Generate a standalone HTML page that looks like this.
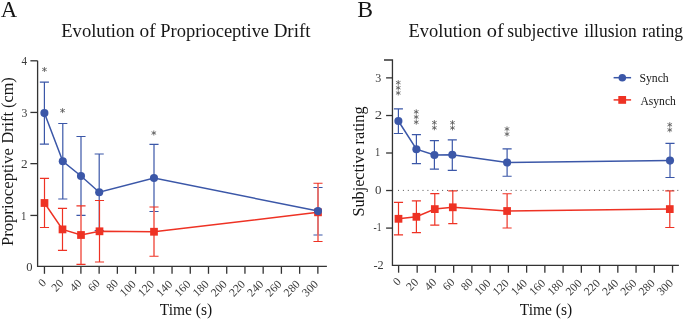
<!DOCTYPE html>
<html><head><meta charset="utf-8"><style>
html,body{margin:0;padding:0;background:#fff;}
svg{display:block;will-change:transform;}
text{font-family:"Liberation Serif",serif;}
</style></head><body>
<svg width="685" height="320" viewBox="0 0 685 320"><g fill="#161616">
<text x="0.86" y="16.90" font-size="24" textLength="16.43" lengthAdjust="spacingAndGlyphs">A</text>
<text x="357.30" y="16.90" font-size="23.5" textLength="15.80" lengthAdjust="spacingAndGlyphs">B</text>
<text x="61.21" y="37.20" font-size="19" textLength="73.44" lengthAdjust="spacingAndGlyphs">Evolution</text>
<text x="139.54" y="37.20" font-size="19" textLength="16.09" lengthAdjust="spacingAndGlyphs">of</text>
<text x="160.21" y="37.20" font-size="19" textLength="108.88" lengthAdjust="spacingAndGlyphs">Proprioceptive</text>
<text x="273.65" y="37.20" font-size="19" textLength="36.94" lengthAdjust="spacingAndGlyphs">Drift</text>
<text x="408.51" y="37.10" font-size="19" textLength="72.88" lengthAdjust="spacingAndGlyphs">Evolution</text>
<text x="486.69" y="37.10" font-size="19" textLength="17.02" lengthAdjust="spacingAndGlyphs">of</text>
<text x="507.31" y="37.10" font-size="19" textLength="70.78" lengthAdjust="spacingAndGlyphs">subjective</text>
<text x="584.37" y="37.10" font-size="19" textLength="52.47" lengthAdjust="spacingAndGlyphs">illusion</text>
<text x="642.17" y="37.10" font-size="19" textLength="40.93" lengthAdjust="spacingAndGlyphs">rating</text>
<text transform="translate(13.30,0) rotate(-90)" x="-246.11" y="0" font-size="16.2" textLength="98.09" lengthAdjust="spacingAndGlyphs">Proprioceptive</text>
<text transform="translate(13.30,0) rotate(-90)" x="-143.60" y="0" font-size="16.2" textLength="66.38" lengthAdjust="spacingAndGlyphs">Drift (cm)</text>
<text transform="translate(364.40,0) rotate(-90)" x="-216.60" y="0" font-size="16.2" textLength="68.50" lengthAdjust="spacingAndGlyphs">Subjective</text>
<text transform="translate(364.40,0) rotate(-90)" x="-144.45" y="0" font-size="16.2" textLength="37.97" lengthAdjust="spacingAndGlyphs">rating</text>
<text x="159.76" y="314.60" font-size="16.4" textLength="52.36" lengthAdjust="spacingAndGlyphs">Time (s)</text>
<text x="519.76" y="314.60" font-size="16.4" textLength="52.36" lengthAdjust="spacingAndGlyphs">Time (s)</text>
<text x="639.41" y="82.00" font-size="12.8" textLength="29.34" lengthAdjust="spacingAndGlyphs">Synch</text>
<text x="640.40" y="104.50" font-size="12.8" textLength="35.45" lengthAdjust="spacingAndGlyphs">Asynch</text>
<path d="M37.6 60.8 V266.35 H326.9" fill="none" stroke="#333333" stroke-width="1.3"/>
<line x1="30.4" y1="60.80" x2="37.6" y2="60.80" stroke="#333333" stroke-width="1.3"/>
<line x1="30.4" y1="112.44" x2="37.6" y2="112.44" stroke="#333333" stroke-width="1.3"/>
<line x1="30.4" y1="163.65" x2="37.6" y2="163.65" stroke="#333333" stroke-width="1.3"/>
<line x1="30.4" y1="215.44" x2="37.6" y2="215.44" stroke="#333333" stroke-width="1.3"/>
<text x="21.52" y="65.45" font-size="11.8" textLength="5.53" lengthAdjust="spacingAndGlyphs" fill="#3a3a3a">4</text>
<text x="21.40" y="116.70" font-size="11.8" textLength="5.91" lengthAdjust="spacingAndGlyphs" fill="#3a3a3a">3</text>
<text x="21.00" y="168.10" font-size="11.8" textLength="6.64" lengthAdjust="spacingAndGlyphs" fill="#3a3a3a">2</text>
<text x="21.08" y="219.85" font-size="11.8" textLength="5.42" lengthAdjust="spacingAndGlyphs" fill="#3a3a3a">1</text>
<text x="26.33" y="271.10" font-size="11.8" textLength="6.30" lengthAdjust="spacingAndGlyphs" fill="#3a3a3a">0</text>
<line x1="44.45" y1="266.35" x2="44.45" y2="273.8" stroke="#333333" stroke-width="1.3"/>
<text transform="translate(46.75,283.5) rotate(-45)" font-size="11.6" text-anchor="end" fill="#3a3a3a">0</text>
<line x1="62.68" y1="266.35" x2="62.68" y2="273.8" stroke="#333333" stroke-width="1.3"/>
<text transform="translate(64.18,284.0) rotate(-45)" font-size="11.6" text-anchor="end" fill="#3a3a3a">20</text>
<line x1="80.90" y1="266.35" x2="80.90" y2="273.8" stroke="#333333" stroke-width="1.3"/>
<text transform="translate(82.40,284.0) rotate(-45)" font-size="11.6" text-anchor="end" fill="#3a3a3a">40</text>
<line x1="99.13" y1="266.35" x2="99.13" y2="273.8" stroke="#333333" stroke-width="1.3"/>
<text transform="translate(100.63,284.0) rotate(-45)" font-size="11.6" text-anchor="end" fill="#3a3a3a">60</text>
<line x1="117.36" y1="266.35" x2="117.36" y2="273.8" stroke="#333333" stroke-width="1.3"/>
<text transform="translate(118.86,284.0) rotate(-45)" font-size="11.6" text-anchor="end" fill="#3a3a3a">80</text>
<line x1="135.59" y1="266.35" x2="135.59" y2="273.8" stroke="#333333" stroke-width="1.3"/>
<text transform="translate(136.59,284.9) rotate(-45)" font-size="11.6" text-anchor="end" fill="#3a3a3a">100</text>
<line x1="153.81" y1="266.35" x2="153.81" y2="273.8" stroke="#333333" stroke-width="1.3"/>
<text transform="translate(154.81,284.9) rotate(-45)" font-size="11.6" text-anchor="end" fill="#3a3a3a">120</text>
<line x1="172.04" y1="266.35" x2="172.04" y2="273.8" stroke="#333333" stroke-width="1.3"/>
<text transform="translate(173.04,284.9) rotate(-45)" font-size="11.6" text-anchor="end" fill="#3a3a3a">140</text>
<line x1="190.27" y1="266.35" x2="190.27" y2="273.8" stroke="#333333" stroke-width="1.3"/>
<text transform="translate(191.27,284.9) rotate(-45)" font-size="11.6" text-anchor="end" fill="#3a3a3a">160</text>
<line x1="208.49" y1="266.35" x2="208.49" y2="273.8" stroke="#333333" stroke-width="1.3"/>
<text transform="translate(209.49,284.9) rotate(-45)" font-size="11.6" text-anchor="end" fill="#3a3a3a">180</text>
<line x1="226.72" y1="266.35" x2="226.72" y2="273.8" stroke="#333333" stroke-width="1.3"/>
<text transform="translate(227.72,284.9) rotate(-45)" font-size="11.6" text-anchor="end" fill="#3a3a3a">200</text>
<line x1="244.95" y1="266.35" x2="244.95" y2="273.8" stroke="#333333" stroke-width="1.3"/>
<text transform="translate(245.95,284.9) rotate(-45)" font-size="11.6" text-anchor="end" fill="#3a3a3a">220</text>
<line x1="263.17" y1="266.35" x2="263.17" y2="273.8" stroke="#333333" stroke-width="1.3"/>
<text transform="translate(264.17,284.9) rotate(-45)" font-size="11.6" text-anchor="end" fill="#3a3a3a">240</text>
<line x1="281.40" y1="266.35" x2="281.40" y2="273.8" stroke="#333333" stroke-width="1.3"/>
<text transform="translate(282.40,284.9) rotate(-45)" font-size="11.6" text-anchor="end" fill="#3a3a3a">260</text>
<line x1="299.63" y1="266.35" x2="299.63" y2="273.8" stroke="#333333" stroke-width="1.3"/>
<text transform="translate(300.63,284.9) rotate(-45)" font-size="11.6" text-anchor="end" fill="#3a3a3a">280</text>
<line x1="317.86" y1="266.35" x2="317.86" y2="273.8" stroke="#333333" stroke-width="1.3"/>
<text transform="translate(318.86,284.9) rotate(-45)" font-size="11.6" text-anchor="end" fill="#3a3a3a">300</text>
<path d="M384 60 H392.45 V265.35 H678.9" fill="none" stroke="#333333" stroke-width="1.3"/>
<line x1="386.1" y1="77.87" x2="392.45" y2="77.87" stroke="#333333" stroke-width="1.3"/>
<line x1="386.1" y1="115.52" x2="392.45" y2="115.52" stroke="#333333" stroke-width="1.3"/>
<line x1="386.1" y1="153.00" x2="392.45" y2="153.00" stroke="#333333" stroke-width="1.3"/>
<line x1="386.1" y1="190.52" x2="392.45" y2="190.52" stroke="#333333" stroke-width="1.3"/>
<line x1="386.1" y1="228.09" x2="392.45" y2="228.09" stroke="#333333" stroke-width="1.3"/>
<text x="375.39" y="81.95" font-size="11.8" textLength="6.02" lengthAdjust="spacingAndGlyphs" fill="#3a3a3a">3</text>
<text x="374.67" y="118.60" font-size="11.8" textLength="7.40" lengthAdjust="spacingAndGlyphs" fill="#3a3a3a">2</text>
<text x="375.01" y="156.25" font-size="11.8" textLength="5.28" lengthAdjust="spacingAndGlyphs" fill="#3a3a3a">1</text>
<text x="375.08" y="194.25" font-size="11.8" textLength="6.47" lengthAdjust="spacingAndGlyphs" fill="#3a3a3a">0</text>
<text x="373.60" y="231.20" font-size="11.8" textLength="7.97" lengthAdjust="spacingAndGlyphs" fill="#3a3a3a">-1</text>
<text x="373.49" y="268.70" font-size="11.8" textLength="10.21" lengthAdjust="spacingAndGlyphs" fill="#3a3a3a">-2</text>
<line x1="398.60" y1="265.35" x2="398.60" y2="272.7" stroke="#333333" stroke-width="1.3"/>
<text transform="translate(401.60,282.2) rotate(-45)" font-size="11.6" text-anchor="end" fill="#3a3a3a">0</text>
<line x1="417.18" y1="265.35" x2="417.18" y2="272.7" stroke="#333333" stroke-width="1.3"/>
<text transform="translate(418.98,283.0) rotate(-45)" font-size="11.6" text-anchor="end" fill="#3a3a3a">20</text>
<line x1="435.42" y1="265.35" x2="435.42" y2="272.7" stroke="#333333" stroke-width="1.3"/>
<text transform="translate(437.22,283.0) rotate(-45)" font-size="11.6" text-anchor="end" fill="#3a3a3a">40</text>
<line x1="453.66" y1="265.35" x2="453.66" y2="272.7" stroke="#333333" stroke-width="1.3"/>
<text transform="translate(455.46,283.0) rotate(-45)" font-size="11.6" text-anchor="end" fill="#3a3a3a">60</text>
<line x1="471.90" y1="265.35" x2="471.90" y2="272.7" stroke="#333333" stroke-width="1.3"/>
<text transform="translate(473.70,283.0) rotate(-45)" font-size="11.6" text-anchor="end" fill="#3a3a3a">80</text>
<line x1="490.14" y1="265.35" x2="490.14" y2="272.7" stroke="#333333" stroke-width="1.3"/>
<text transform="translate(491.34,283.8) rotate(-45)" font-size="11.6" text-anchor="end" fill="#3a3a3a">100</text>
<line x1="508.38" y1="265.35" x2="508.38" y2="272.7" stroke="#333333" stroke-width="1.3"/>
<text transform="translate(509.58,283.8) rotate(-45)" font-size="11.6" text-anchor="end" fill="#3a3a3a">120</text>
<line x1="526.62" y1="265.35" x2="526.62" y2="272.7" stroke="#333333" stroke-width="1.3"/>
<text transform="translate(527.82,283.8) rotate(-45)" font-size="11.6" text-anchor="end" fill="#3a3a3a">140</text>
<line x1="544.86" y1="265.35" x2="544.86" y2="272.7" stroke="#333333" stroke-width="1.3"/>
<text transform="translate(546.06,283.8) rotate(-45)" font-size="11.6" text-anchor="end" fill="#3a3a3a">160</text>
<line x1="563.10" y1="265.35" x2="563.10" y2="272.7" stroke="#333333" stroke-width="1.3"/>
<text transform="translate(564.30,283.8) rotate(-45)" font-size="11.6" text-anchor="end" fill="#3a3a3a">180</text>
<line x1="581.34" y1="265.35" x2="581.34" y2="272.7" stroke="#333333" stroke-width="1.3"/>
<text transform="translate(582.54,283.8) rotate(-45)" font-size="11.6" text-anchor="end" fill="#3a3a3a">200</text>
<line x1="599.58" y1="265.35" x2="599.58" y2="272.7" stroke="#333333" stroke-width="1.3"/>
<text transform="translate(600.78,283.8) rotate(-45)" font-size="11.6" text-anchor="end" fill="#3a3a3a">220</text>
<line x1="617.82" y1="265.35" x2="617.82" y2="272.7" stroke="#333333" stroke-width="1.3"/>
<text transform="translate(619.02,283.8) rotate(-45)" font-size="11.6" text-anchor="end" fill="#3a3a3a">240</text>
<line x1="636.06" y1="265.35" x2="636.06" y2="272.7" stroke="#333333" stroke-width="1.3"/>
<text transform="translate(637.26,283.8) rotate(-45)" font-size="11.6" text-anchor="end" fill="#3a3a3a">260</text>
<line x1="654.30" y1="265.35" x2="654.30" y2="272.7" stroke="#333333" stroke-width="1.3"/>
<text transform="translate(655.50,283.8) rotate(-45)" font-size="11.6" text-anchor="end" fill="#3a3a3a">280</text>
<line x1="672.54" y1="265.35" x2="672.54" y2="272.7" stroke="#333333" stroke-width="1.3"/>
<text transform="translate(673.74,283.8) rotate(-45)" font-size="11.6" text-anchor="end" fill="#3a3a3a">300</text>
<path d="M44.4 82.2 V144.1 M39.85 82.2 H48.949999999999996 M39.85 144.1 H48.949999999999996" stroke="#3b57a8" stroke-width="1.2" fill="none"/>
<path d="M62.8 123.5 V199 M58.25 123.5 H67.35 M58.25 199 H67.35" stroke="#3b57a8" stroke-width="1.2" fill="none"/>
<path d="M81 136.5 V215.3 M76.45 136.5 H85.55 M76.45 215.3 H85.55" stroke="#3b57a8" stroke-width="1.2" fill="none"/>
<path d="M99.2 154 V230.5 M94.65 154 H103.75 M94.65 230.5 H103.75" stroke="#3b57a8" stroke-width="1.2" fill="none"/>
<path d="M154 144.4 V211.5 M149.45 144.4 H158.55 M149.45 211.5 H158.55" stroke="#3b57a8" stroke-width="1.2" fill="none"/>
<path d="M318 187.5 V235 M313.45 187.5 H322.55 M313.45 235 H322.55" stroke="#3b57a8" stroke-width="1.2" fill="none"/>
<path d="M44.5 178.4 V227.5" stroke="#fff" stroke-width="1.2" fill="none"/>
<path d="M44.5 178.4 V227.5 M39.95 178.4 H49.05 M39.95 227.5 H49.05" stroke="#ee3224" stroke-width="1.2" fill="none"/>
<path d="M62.5 208.4 V250.4" stroke="#fff" stroke-width="1.2" fill="none"/>
<path d="M62.5 208.4 V250.4 M57.95 208.4 H67.05 M57.95 250.4 H67.05" stroke="#ee3224" stroke-width="1.2" fill="none"/>
<path d="M81 205.9 V264.4" stroke="#fff" stroke-width="1.2" fill="none"/>
<path d="M81 205.9 V264.4 M76.45 205.9 H85.55 M76.45 264.4 H85.55" stroke="#ee3224" stroke-width="1.2" fill="none"/>
<path d="M99.5 200.5 V262" stroke="#fff" stroke-width="1.2" fill="none"/>
<path d="M99.5 200.5 V262 M94.95 200.5 H104.05 M94.95 262 H104.05" stroke="#ee3224" stroke-width="1.2" fill="none"/>
<path d="M154 207 V256.25" stroke="#fff" stroke-width="1.2" fill="none"/>
<path d="M154 207 V256.25 M149.45 207 H158.55 M149.45 256.25 H158.55" stroke="#ee3224" stroke-width="1.2" fill="none"/>
<path d="M318 183.25 V241.5" stroke="#fff" stroke-width="1.2" fill="none"/>
<path d="M318 183.25 V241.5 M313.45 183.25 H322.55 M313.45 241.5 H322.55" stroke="#ee3224" stroke-width="1.2" fill="none"/>
<polyline points="44.4,113.1 62.8,161.3 81,176 99.2,192.2 154,178 318,211.1" fill="none" stroke="#3b57a8" stroke-width="1.5"/>
<polyline points="44.5,203 62.5,229.4 81,235 99.5,231.3 154,231.75 318,212.3" fill="none" stroke="#ee3224" stroke-width="1.5"/>
<rect x="40.65" y="199.1" width="7.7" height="7.8" fill="#ee3224"/>
<rect x="58.65" y="225.5" width="7.7" height="7.8" fill="#ee3224"/>
<rect x="77.15" y="231.1" width="7.7" height="7.8" fill="#ee3224"/>
<rect x="95.65" y="227.4" width="7.7" height="7.8" fill="#ee3224"/>
<rect x="150.15" y="227.85" width="7.7" height="7.8" fill="#ee3224"/>
<rect x="314.15" y="208.4" width="7.7" height="7.8" fill="#ee3224"/>
<circle cx="44.4" cy="113.1" r="4.05" fill="#3b57a8"/>
<circle cx="62.8" cy="161.3" r="4.05" fill="#3b57a8"/>
<circle cx="81" cy="176" r="4.05" fill="#3b57a8"/>
<circle cx="99.2" cy="192.2" r="4.05" fill="#3b57a8"/>
<circle cx="154" cy="178" r="4.05" fill="#3b57a8"/>
<circle cx="318" cy="211.1" r="4.05" fill="#3b57a8"/>
<path d="M398.4 108.8 V133.5 M393.84999999999997 108.8 H402.95 M393.84999999999997 133.5 H402.95" stroke="#3b57a8" stroke-width="1.2" fill="none"/>
<path d="M416.4 134.7 V163.6 M411.84999999999997 134.7 H420.95 M411.84999999999997 163.6 H420.95" stroke="#3b57a8" stroke-width="1.2" fill="none"/>
<path d="M434.4 140.6 V169.2 M429.84999999999997 140.6 H438.95 M429.84999999999997 169.2 H438.95" stroke="#3b57a8" stroke-width="1.2" fill="none"/>
<path d="M452.3 139.8 V170.3 M447.75 139.8 H456.85 M447.75 170.3 H456.85" stroke="#3b57a8" stroke-width="1.2" fill="none"/>
<path d="M507.1 148.8 V176.25 M502.55 148.8 H511.65000000000003 M502.55 176.25 H511.65000000000003" stroke="#3b57a8" stroke-width="1.2" fill="none"/>
<path d="M670 143.4 V177.5 M665.45 143.4 H674.55 M665.45 177.5 H674.55" stroke="#3b57a8" stroke-width="1.2" fill="none"/>
<path d="M398.5 202.3 V234.9" stroke="#fff" stroke-width="1.2" fill="none"/>
<path d="M398.5 202.3 V234.9 M393.95 202.3 H403.05 M393.95 234.9 H403.05" stroke="#ee3224" stroke-width="1.2" fill="none"/>
<path d="M416.4 200.9 V232.7" stroke="#fff" stroke-width="1.2" fill="none"/>
<path d="M416.4 200.9 V232.7 M411.84999999999997 200.9 H420.95 M411.84999999999997 232.7 H420.95" stroke="#ee3224" stroke-width="1.2" fill="none"/>
<path d="M434.8 193.6 V225.2" stroke="#fff" stroke-width="1.2" fill="none"/>
<path d="M434.8 193.6 V225.2 M430.25 193.6 H439.35 M430.25 225.2 H439.35" stroke="#ee3224" stroke-width="1.2" fill="none"/>
<path d="M452.8 190.9 V223.7" stroke="#fff" stroke-width="1.2" fill="none"/>
<path d="M452.8 190.9 V223.7 M448.25 190.9 H457.35 M448.25 223.7 H457.35" stroke="#ee3224" stroke-width="1.2" fill="none"/>
<path d="M507.1 193.75 V228" stroke="#fff" stroke-width="1.2" fill="none"/>
<path d="M507.1 193.75 V228 M502.55 193.75 H511.65000000000003 M502.55 228 H511.65000000000003" stroke="#ee3224" stroke-width="1.2" fill="none"/>
<path d="M669.8 190.9 V227.5" stroke="#fff" stroke-width="1.2" fill="none"/>
<path d="M669.8 190.9 V227.5 M665.25 190.9 H674.3499999999999 M665.25 227.5 H674.3499999999999" stroke="#ee3224" stroke-width="1.2" fill="none"/>
<polyline points="398.4,121 416.4,149.2 434.4,155 452.3,154.7 507.1,162.5 670,160.6" fill="none" stroke="#3b57a8" stroke-width="1.5"/>
<polyline points="398.5,218.8 416.4,216.8 434.8,209.1 452.8,207.3 507.1,211 669.8,209.1" fill="none" stroke="#ee3224" stroke-width="1.5"/>
<rect x="394.65" y="214.9" width="7.7" height="7.8" fill="#ee3224"/>
<rect x="412.54999999999995" y="212.9" width="7.7" height="7.8" fill="#ee3224"/>
<rect x="430.95" y="205.2" width="7.7" height="7.8" fill="#ee3224"/>
<rect x="448.95" y="203.4" width="7.7" height="7.8" fill="#ee3224"/>
<rect x="503.25" y="207.1" width="7.7" height="7.8" fill="#ee3224"/>
<rect x="665.9499999999999" y="205.2" width="7.7" height="7.8" fill="#ee3224"/>
<circle cx="398.4" cy="121" r="4.05" fill="#3b57a8"/>
<circle cx="416.4" cy="149.2" r="4.05" fill="#3b57a8"/>
<circle cx="434.4" cy="155" r="4.05" fill="#3b57a8"/>
<circle cx="452.3" cy="154.7" r="4.05" fill="#3b57a8"/>
<circle cx="507.1" cy="162.5" r="4.05" fill="#3b57a8"/>
<circle cx="670" cy="160.6" r="4.05" fill="#3b57a8"/>
<line x1="398" y1="190.4" x2="679" y2="190.4" stroke="#555" stroke-width="1" stroke-dasharray="1 3.9"/>
<path d="M44.45 67.00V72.00M42.15 68.20L46.75 70.80M42.15 70.80L46.75 68.20" stroke="#555" stroke-width="0.8" fill="none"/>
<path d="M62.56 108.10V113.10M60.26 109.30L64.86 111.90M60.26 111.90L64.86 109.30" stroke="#555" stroke-width="0.8" fill="none"/>
<path d="M153.80 130.50V135.50M151.50 131.70L156.10 134.30M151.50 134.30L156.10 131.70" stroke="#555" stroke-width="0.8" fill="none"/>
<path d="M398.25 80.10V85.10M395.95 81.30L400.55 83.90M395.95 83.90L400.55 81.30" stroke="#555" stroke-width="0.8" fill="none"/>
<path d="M398.25 85.30V90.30M395.95 86.50L400.55 89.10M395.95 89.10L400.55 86.50" stroke="#555" stroke-width="0.8" fill="none"/>
<path d="M398.25 90.50V95.50M395.95 91.70L400.55 94.30M395.95 94.30L400.55 91.70" stroke="#555" stroke-width="0.8" fill="none"/>
<path d="M416.25 109.30V114.30M413.95 110.50L418.55 113.10M413.95 113.10L418.55 110.50" stroke="#555" stroke-width="0.8" fill="none"/>
<path d="M416.25 114.50V119.50M413.95 115.70L418.55 118.30M413.95 118.30L418.55 115.70" stroke="#555" stroke-width="0.8" fill="none"/>
<path d="M416.25 119.70V124.70M413.95 120.90L418.55 123.50M413.95 123.50L418.55 120.90" stroke="#555" stroke-width="0.8" fill="none"/>
<path d="M434.40 120.10V125.10M432.10 121.30L436.70 123.90M432.10 123.90L436.70 121.30" stroke="#555" stroke-width="0.8" fill="none"/>
<path d="M434.40 125.30V130.30M432.10 126.50L436.70 129.10M432.10 129.10L436.70 126.50" stroke="#555" stroke-width="0.8" fill="none"/>
<path d="M452.50 120.20V125.20M450.20 121.40L454.80 124.00M450.20 124.00L454.80 121.40" stroke="#555" stroke-width="0.8" fill="none"/>
<path d="M452.50 125.40V130.40M450.20 126.60L454.80 129.20M450.20 129.20L454.80 126.60" stroke="#555" stroke-width="0.8" fill="none"/>
<path d="M507.00 126.40V131.40M504.70 127.60L509.30 130.20M504.70 130.20L509.30 127.60" stroke="#555" stroke-width="0.8" fill="none"/>
<path d="M507.00 131.60V136.60M504.70 132.80L509.30 135.40M504.70 135.40L509.30 132.80" stroke="#555" stroke-width="0.8" fill="none"/>
<path d="M669.75 122.20V127.20M667.45 123.40L672.05 126.00M667.45 126.00L672.05 123.40" stroke="#555" stroke-width="0.8" fill="none"/>
<path d="M669.75 127.40V132.40M667.45 128.60L672.05 131.20M667.45 131.20L672.05 128.60" stroke="#555" stroke-width="0.8" fill="none"/>
<line x1="613.6" y1="77.7" x2="631.1" y2="77.7" stroke="#3b57a8" stroke-width="1.5"/>
<circle cx="622.3" cy="77.7" r="3.8" fill="#3b57a8"/>
<line x1="613.6" y1="99.9" x2="631.1" y2="99.9" stroke="#ee3224" stroke-width="1.5"/>
<rect x="618.3" y="96" width="7.8" height="7.8" fill="#ee3224"/>
</g></svg>
</body></html>
